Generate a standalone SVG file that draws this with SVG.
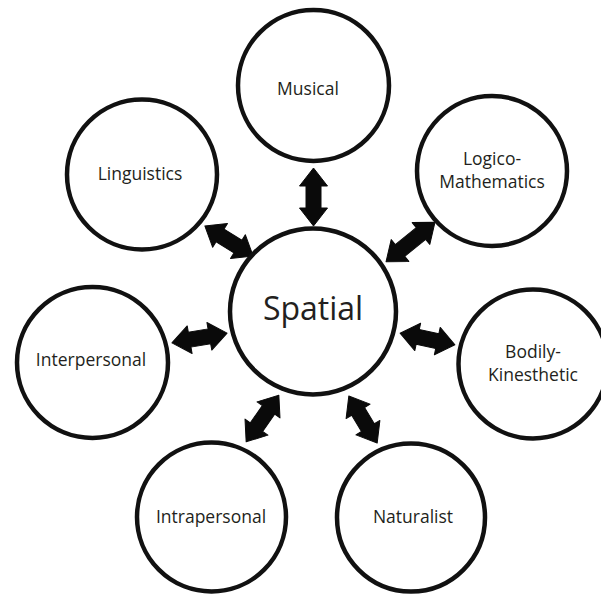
<svg xmlns="http://www.w3.org/2000/svg" width="601" height="595" viewBox="0 0 601 595">
<style>
.node{fill:#fff;stroke:#111;stroke-width:4.5}
.lbl{font-family:"Open Sans","Liberation Sans",Arial,sans-serif;font-size:17.5px;fill:#231f20;text-anchor:middle}
.big{font-size:32px}
.arr{fill:#0a0a0a;stroke:#0a0a0a;stroke-width:1;stroke-linejoin:round}
</style>
<rect width="601" height="595" fill="#fff"/>
<g id="connectors">
<path class="arr" transform="translate(313.5,197) rotate(90)" d="M-29,0 L-11,-14 L-11,-7.5 L11,-7.5 L11,-14 L29,0 L11,14 L11,7.5 L-11,7.5 L-11,14 Z"/>
<path class="arr" transform="translate(229,241) rotate(32)" d="M-28.5,0 L-10.5,-14 L-10.5,-7.5 L10.5,-7.5 L10.5,-14 L28.5,0 L10.5,14 L10.5,7.5 L-10.5,7.5 L-10.5,14 Z"/>
<path class="arr" transform="translate(410.5,242) rotate(-39)" d="M-31.5,0 L-13.5,-14 L-13.5,-7.5 L13.5,-7.5 L13.5,-14 L31.5,0 L13.5,14 L13.5,7.5 L-13.5,7.5 L-13.5,14 Z"/>
<path class="arr" transform="translate(199.5,338) rotate(-10)" d="M-28,0 L-10,-14 L-10,-7.5 L10,-7.5 L10,-14 L28,0 L10,14 L10,7.5 L-10,7.5 L-10,14 Z"/>
<path class="arr" transform="translate(427.5,339) rotate(12)" d="M-28,0 L-10,-14 L-10,-7.5 L10,-7.5 L10,-14 L28,0 L10,14 L10,7.5 L-10,7.5 L-10,14 Z"/>
<path class="arr" transform="translate(262.5,418.5) rotate(-55)" d="M-28.5,0 L-10.5,-14 L-10.5,-7.5 L10.5,-7.5 L10.5,-14 L28.5,0 L10.5,14 L10.5,7.5 L-10.5,7.5 L-10.5,14 Z"/>
<path class="arr" transform="translate(363,419.5) rotate(59)" d="M-27.5,0 L-9.5,-14 L-9.5,-7.5 L9.5,-7.5 L9.5,-14 L27.5,0 L9.5,14 L9.5,7.5 L-9.5,7.5 L-9.5,14 Z"/>
</g>
<g id="spatial">
<circle class="node" cx="313" cy="311.5" r="83"/>
<text class="lbl big" x="313" y="320">Spatial</text>
</g>
<g id="musical">
<circle class="node" cx="313.5" cy="85.5" r="75.5"/>
<text class="lbl" x="308" y="95">Musical</text>
</g>
<g id="linguistics">
<circle class="node" cx="142" cy="174.5" r="75"/>
<text class="lbl" x="140" y="180">Linguistics</text>
</g>
<g id="logico-mathematics">
<circle class="node" cx="492" cy="171" r="75"/>
<text class="lbl" x="492" y="165">Logico-</text>
<text class="lbl" x="492" y="188">Mathematics</text>
</g>
<g id="interpersonal">
<circle class="node" cx="92.5" cy="362.5" r="75.5"/>
<text class="lbl" x="91" y="366">Interpersonal</text>
</g>
<g id="bodily-kinesthetic">
<circle class="node" cx="533" cy="364" r="74.5"/>
<text class="lbl" x="533" y="358">Bodily-</text>
<text class="lbl" x="533" y="381">Kinesthetic</text>
</g>
<g id="intrapersonal">
<circle class="node" cx="211.5" cy="517" r="74.5"/>
<text class="lbl" x="211" y="523">Intrapersonal</text>
</g>
<g id="naturalist">
<circle class="node" cx="411" cy="517.5" r="74"/>
<text class="lbl" x="413" y="523">Naturalist</text>
</g>
</svg>
